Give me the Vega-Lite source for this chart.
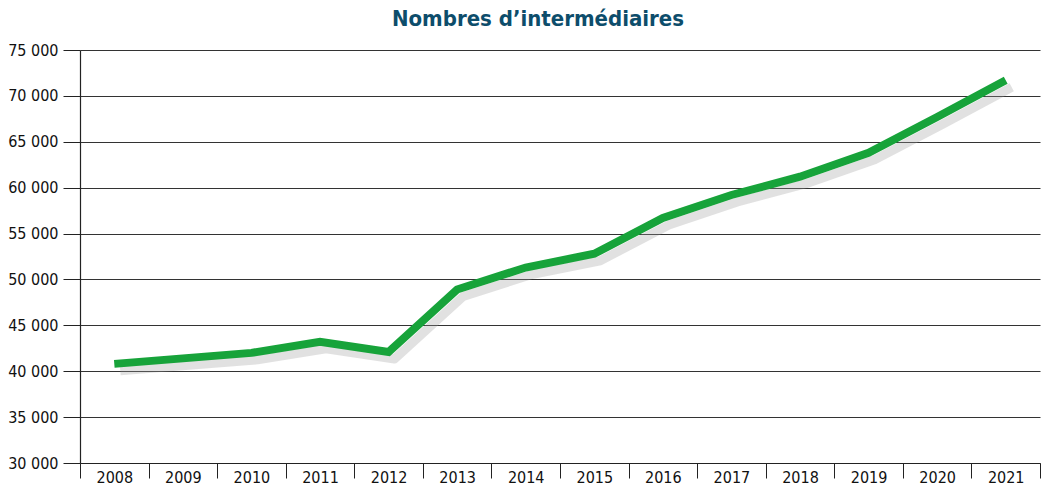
{
  "$schema": "https://vega.github.io/schema/vega-lite/v6.json",
  "width": 960,
  "height": 413,
  "autosize": {"type": "none"},
  "padding": {"left": 80, "top": 50, "right": 4, "bottom": 25},
  "background": "white",
  "title": {
    "text": "Nombres d’intermédiaires",
    "font": "DejaVu Sans Condensed, Roboto, sans-serif",
    "fontSize": 22,
    "fontWeight": "bold",
    "color": "#0d4d6b",
    "anchor": "middle",
    "dx": -22,
    "offset": 11
  },
  "config": {
    "view": {"stroke": null},
    "axis": {
      "labelFont": "DejaVu Sans Condensed, Roboto, sans-serif",
      "labelColor": "#111",
      "domainColor": "#222",
      "tickColor": "#222",
      "gridColor": "#333"
    }
  },
  "data": {
    "values": [
      {"year": "2008", "value": 40800},
      {"year": "2009", "value": 41400},
      {"year": "2010", "value": 42000},
      {"year": "2011", "value": 43200},
      {"year": "2012", "value": 42100},
      {"year": "2013", "value": 48900},
      {"year": "2014", "value": 51300},
      {"year": "2015", "value": 52800},
      {"year": "2016", "value": 56700},
      {"year": "2017", "value": 59200},
      {"year": "2018", "value": 61200},
      {"year": "2019", "value": 63800},
      {"year": "2020", "value": 67700},
      {"year": "2021", "value": 71700}
    ]
  },
  "encoding": {
    "x": {
      "field": "year",
      "type": "ordinal",
      "scale": {"type": "band", "paddingInner": 0, "paddingOuter": 0},
      "axis": {
        "title": null,
        "labelAngle": 0,
        "labelFontSize": 16,
        "tickBand": "extent",
        "tickSize": 15,
        "labelPadding": -9,
        "domainWidth": 1.2
      }
    },
    "y": {
      "field": "value",
      "type": "quantitative",
      "scale": {"domain": [30000, 75000], "nice": false, "zero": false},
      "axis": {
        "title": null,
        "values": [30000, 35000, 40000, 45000, 50000, 55000, 60000, 65000, 70000, 75000],
        "labelExpr": "replace(format(datum.value, ','), ',', ' ')",
        "labelFontSize": 16,
        "tickSize": 17,
        "labelPadding": 5,
        "grid": true,
        "gridWidth": 1.2,
        "domainWidth": 1.2
      }
    }
  },
  "layer": [
    {
      "mark": {"type": "line", "stroke": "#9a9a9a", "strokeWidth": 9, "opacity": 0.3, "xOffset": 6, "yOffset": 7, "strokeJoin": "round"}
    },
    {
      "mark": {"type": "line", "stroke": "#17a33a", "strokeWidth": 8, "strokeJoin": "miter"}
    }
  ]
}
